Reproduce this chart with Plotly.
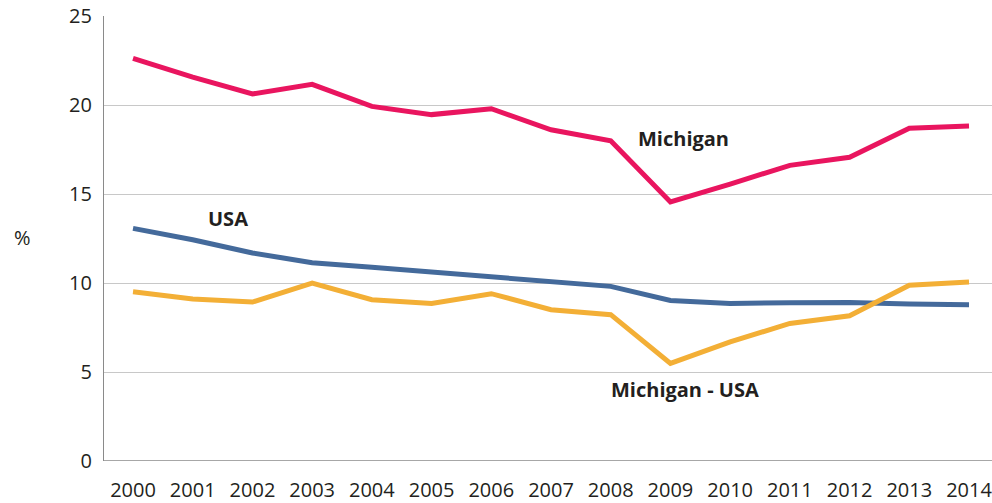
import plotly.graph_objects as go

years = list(range(2000, 2015))
michigan = [22.62, 21.57, 20.62, 21.16, 19.92, 19.46, 19.79, 18.61, 17.99, 14.55, 15.56, 16.61, 17.06, 18.69, 18.82]
usa = [13.07, 12.43, 11.69, 11.14, 10.88, 10.63, 10.37, 10.06, 9.81, 9.02, 8.85, 8.89, 8.91, 8.82, 8.78]
mich_minus_usa = [9.51, 9.10, 8.93, 10.0, 9.06, 8.85, 9.40, 8.50, 8.22, 5.48, 6.69, 7.73, 8.16, 9.87, 10.06]
y_ticks = [0, 5, 10, 15, 20, 25]

FONT = "Open Sans"
TXT = "#231F20"

fig = go.Figure()
fig.add_trace(go.Scatter(x=years, y=michigan, mode="lines", name="Michigan",
                         line=dict(color="#E9155F", width=5)))
fig.add_trace(go.Scatter(x=years, y=usa, mode="lines", name="USA",
                         line=dict(color="#446A9B", width=5)))
fig.add_trace(go.Scatter(x=years, y=mich_minus_usa, mode="lines", name="Michigan - USA",
                         line=dict(color="#F3AF36", width=5)))

labels = [("Michigan", 2009.22, 18.1), ("USA", 2001.59, 13.61), ("Michigan - USA", 2009.24, 4.0)]
for t, x, y in labels:
    fig.add_annotation(x=x, y=y, text="<b>" + t + "</b>", showarrow=False,
                       font=dict(family=FONT, size=20, color=TXT))

fig.add_annotation(xref="paper", yref="paper", x=-0.0923, y=0.502, text="%",
                   showarrow=False, font=dict(family=FONT, size=20, color=TXT),
                   xanchor="center", yanchor="middle")

fig.update_layout(
    width=992, height=503,
    margin=dict(l=104, r=0, t=16, b=42),
    paper_bgcolor="white", plot_bgcolor="white",
    showlegend=False,
    font=dict(family=FONT, size=20, color=TXT),
)
fig.update_xaxes(range=[1999.514, 2014.385], tickmode="array", tickvals=years,
                 ticktext=[str(y) for y in years], showgrid=False, zeroline=False,
                 showline=False, ticks="", ticklabelstandoff=15, automargin=False,
                 ticklabeloverflow="allow",
                 tickfont=dict(family=FONT, size=20, color=TXT))
fig.update_yaxes(range=[0, 25], tickmode="array", tickvals=y_ticks, showgrid=True,
                 gridcolor="#C8C8C8", gridwidth=1, zeroline=False, automargin=False,
                 showline=True, linecolor="#8A8A8A", linewidth=1.3, ticks="",
                 ticklabelstandoff=7, tickfont=dict(family=FONT, size=20, color=TXT))
# bottom axis line at 0
fig.add_shape(type="line", xref="paper", yref="y", x0=0, x1=1, y0=0, y1=0,
              line=dict(color="#8A8A8A", width=1.3), layer="below")

fig.write_html("out.html", config={"displayModeBar": False},
               post_script="document.body.style.margin='0';document.body.style.overflow='hidden';")
